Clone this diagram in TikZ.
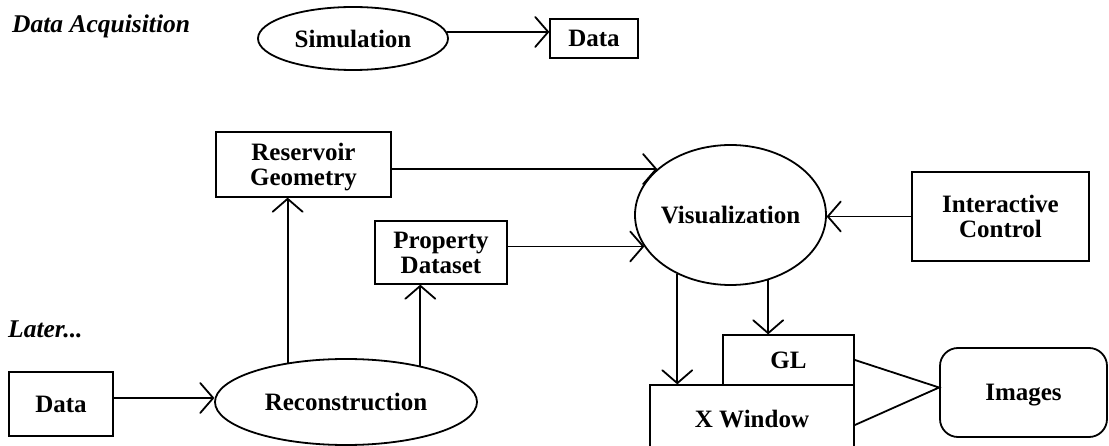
\documentclass[tikz,border=0pt]{standalone}
\usepackage{fontspec}
\setmainfont{Liberation Serif}
\usetikzlibrary{arrows.meta,shapes.geometric}
\begin{document}
\begin{tikzpicture}[x=1pt,y=-1pt,
  every node/.style={font=\fontsize{25}{25}\selectfont\bfseries, inner sep=0pt, text depth=0pt},
  box/.style={draw, line width=1.8pt, align=center},
  oval/.style={draw, ellipse, line width=1.8pt},
  rbox/.style={draw, rounded corners=18pt, line width=1.8pt},
  caption/.style={font=\fontsize{25.5}{25.5}\selectfont\bfseries\itshape, anchor=base west},
  arr/.style={line width=1.8pt, -{Straight Barb[length=13pt,width=30pt,round]}},
  link/.style={line width=1.8pt}]
\useasboundingbox (0,0) rectangle (1109,446);
\clip (0,0) rectangle (1109,446);

% section captions
\node[caption] (acq) at (12,33) {Data Acquisition};
\node[caption] (later) at (8,338) {Later...};

% data acquisition
\node[oval, minimum width=190pt, minimum height=63pt] (sim) at (353,38.5) {Simulation};
\node[box, minimum width=88pt, minimum height=39pt] (dat1) at (594,38.5) {Data};

% reconstruction and visualization pipeline
\node[box, minimum width=175pt, minimum height=65pt] (res) at (303.5,164.5) {Reservoir\\Geometry};
\node[box, minimum width=132pt, minimum height=63pt] (prop) at (441,252.5) {Property\\Dataset};
\node[oval, minimum width=191pt, minimum height=140pt] (vis) at (730.5,215) {\makebox[100pt]{Visualization}};
\node[box, minimum width=177pt, minimum height=89pt] (ic) at (1000.5,216.5) {Interactive\\Control};
\node[box, minimum width=104pt, minimum height=64pt] (dat2) at (61,404) {Data};
\node[oval, minimum width=262pt, minimum height=86pt] (rec) at (346,402) {Reconstruction};
\node[box, minimum width=204pt, minimum height=67pt] (xw) at (752,418.5) {X Window};
\node[box, minimum width=131pt, minimum height=50pt] (gl) at (788.5,360) {GL};
\node[rbox, minimum width=167pt, minimum height=89pt] (img) at (1023.5,392.5) {Images};

% connectors
\draw[arr] (sim.4) -- (sim.4 -| dat1.west);
\draw[arr] (rec.146.4) -- (rec.146.4 |- res.south);
\draw[arr] (rec.26.5) -- (rec.26.5 |- prop.south);
\draw[arr] ([yshift=6pt]dat2.east) -- ([yshift=6pt]dat2.east -| rec.west);
\draw[arr] (vis.148.4 -| res.east) -- (vis.148.4);
\draw[arr] (vis.200.6 -| prop.east) -- (vis.200.6);
\draw[arr] (ic.west) -- (ic.west -| vis.east);
\draw[arr] (vis.228.8) -- (vis.228.8 |- xw.north);
\draw[arr] (vis.-60.6) -- (vis.-60.6 |- gl.north);
\draw[link] (gl.east) -- ([yshift=5pt]img.west) -- ([yshift=-6.5pt]xw.east);
\end{tikzpicture}
\end{document}
